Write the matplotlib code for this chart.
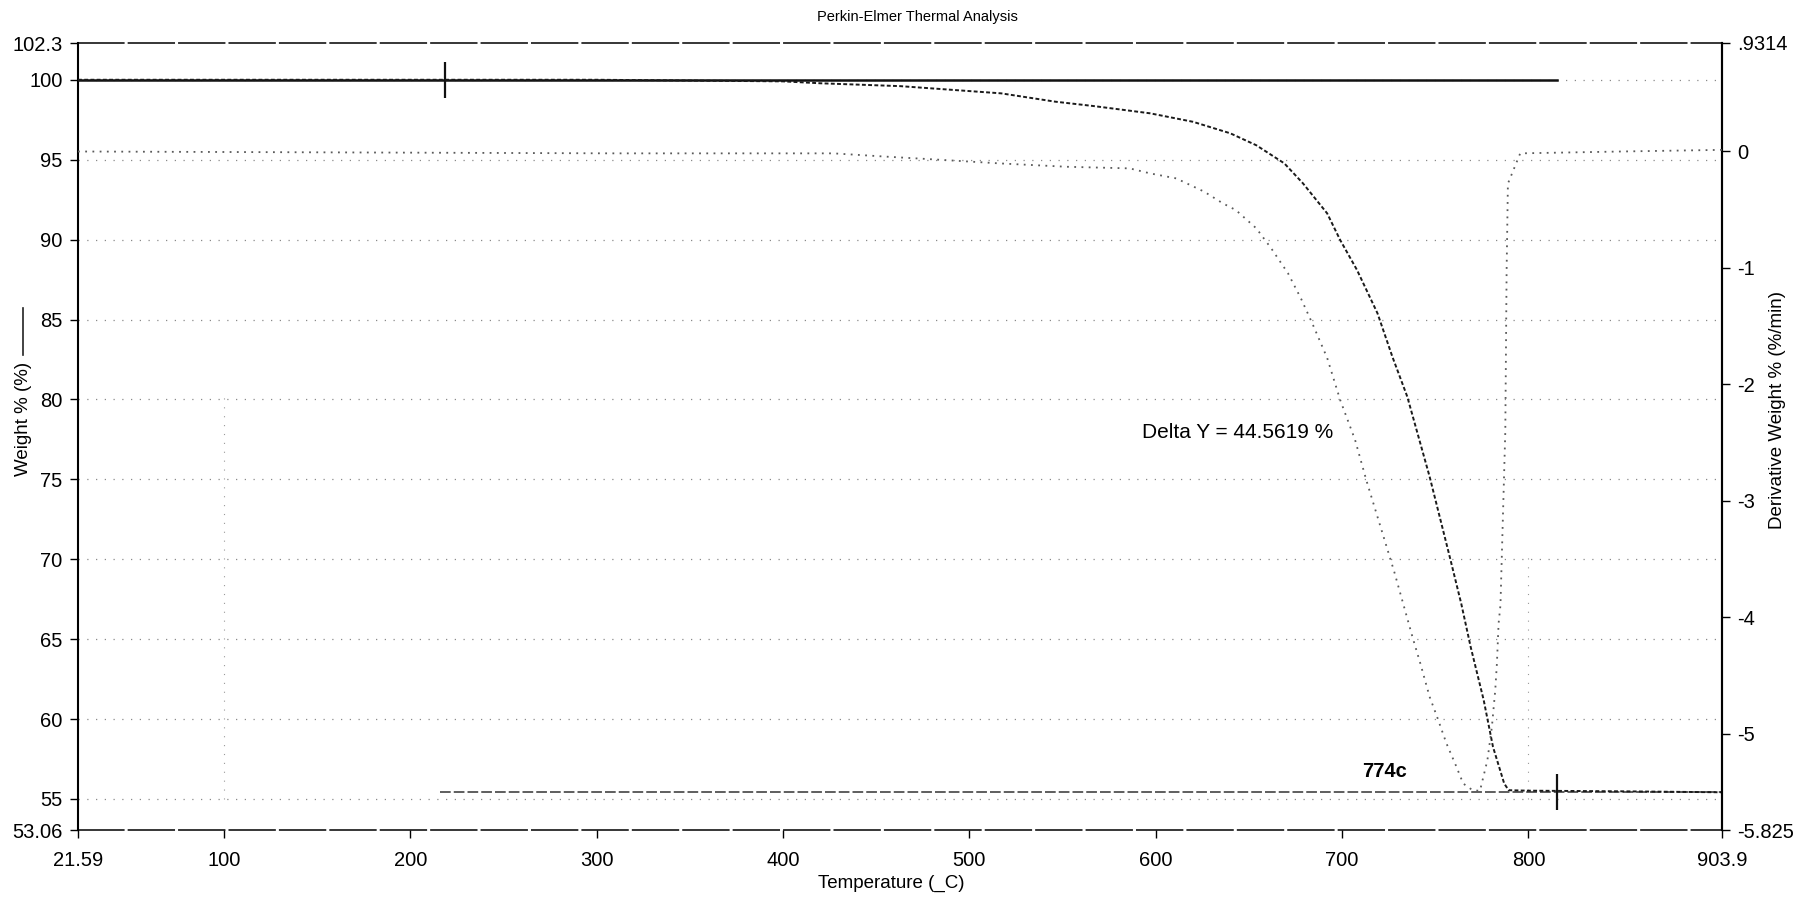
import matplotlib
matplotlib.use("Agg")
import matplotlib.pyplot as plt
from matplotlib.lines import Line2D

plt.rcParams['font.family'] = ['Liberation Sans', 'DejaVu Sans']

# ---- data ----
# weight % curve (left axis)
temp_w = [21.59, 300, 400, 420, 463, 517, 546, 567, 597, 620, 640, 654, 669, 679,
          692, 699, 708, 719, 727, 735, 747, 758, 764, 769, 776, 781, 787,
          789.4, 800, 850, 903.9]
weight = [100.0, 100.0, 99.9, 99.78, 99.6, 99.15, 98.63, 98.35, 97.9, 97.37, 96.65,
          95.9, 94.77, 93.52, 91.64, 89.97, 88.1, 85.39, 82.67, 80.17, 75.16,
          70.05, 67.2, 64.52, 61.19, 58.26, 55.97, 55.55, 55.52, 55.48, 55.42]

# derivative weight % (%/min) curve (right axis)
temp_d = [21.59, 309, 427, 454, 481, 516, 552, 586, 597, 611, 626, 636, 643, 654,
          662, 671, 678, 684, 692, 699, 707, 713, 719, 728, 738, 742, 747, 751,
          756, 761, 765, 770, 774, 778, 780.4, 782.2, 783.1, 784, 785, 787.6,
          788.3, 789, 795.6, 850, 903.9]
deriv = [0.0, -0.016, -0.016, -0.043, -0.068, -0.102, -0.131, -0.145, -0.188,
         -0.231, -0.345, -0.445, -0.503, -0.660, -0.832, -1.046, -1.264, -1.475,
         -1.772, -2.134, -2.477, -2.821, -3.136, -3.608, -4.180, -4.395, -4.682,
         -4.854, -5.081, -5.268, -5.426, -5.483, -5.489, -5.225, -4.940, -4.626,
         -4.395, -4.052, -3.894, -2.403, -1.031, -0.276, -0.016, 0.0, 0.014]

# delta Y step lines and cursor marks
upper_ref_x = [21.59, 815.3]
upper_ref_y = [100.0, 100.0]
lower_ref_x = [215.9, 903.9]
lower_ref_y = [55.45, 55.45]
cursor_x = [218.6, 815.3]
cursor_y = [100.0, 55.45]

x_ticks = [21.59, 100, 200, 300, 400, 500, 600, 700, 800, 903.9]
x_labels = ['21.59', '100', '200', '300', '400', '500', '600', '700', '800', '903.9']
yl_ticks = [53.06, 55, 60, 65, 70, 75, 80, 85, 90, 95, 100, 102.3]
yl_labels = ['53.06', '55', '60', '65', '70', '75', '80', '85', '90', '95', '100', '102.3']
yr_ticks = [-5.825, -5, -4, -3, -2, -1, 0, 0.9314]
yr_labels = ['-5.825', '-5', '-4', '-3', '-2', '-1', '0', '.9314']
grid_y = [55, 60, 65, 70, 75, 80, 85, 90, 95, 100]

W, H = 1810, 897
fig = plt.figure(figsize=(W / 100, H / 100), dpi=100)
L, R, T, B = 78, 1722, 43, 830
ax = fig.add_axes([L / W, 1 - B / H, (R - L) / W, (B - T) / H])
ax.set_xlim(21.59, 903.9)
ax.set_ylim(53.06, 102.3)

# faint dotted grid
for g in grid_y:
    ax.axhline(g, color='#8a8a8a', lw=0.9, ls=(0, (1, 6)), zorder=0)
ax.axvline(100, ymin=0.04, ymax=0.55, color='#999999', lw=0.8, ls=(0, (1, 7)), zorder=0)
ax.axvline(800, ymin=0.04, ymax=0.35, color='#999999', lw=0.8, ls=(0, (1, 7)), zorder=0)

# step lines + cursors
ax.plot(upper_ref_x, upper_ref_y, color='#111111', lw=1.8, zorder=3)
ax.plot(lower_ref_x, lower_ref_y, color='#333333', lw=1.1, ls=(0, (7, 2)), zorder=3)
ax.plot(cursor_x, cursor_y, ls='none', marker='|', ms=26, mew=1.6, color='#111111', zorder=4)

# weight curve
ax.plot(temp_w, weight, color='#1a1a1a', lw=1.4, ls=(0, (2, 1.2)), zorder=4)

ax.set_xticks(x_ticks)
ax.set_xticklabels(x_labels)
ax.set_yticks(yl_ticks)
ax.set_yticklabels(yl_labels)
ax.tick_params(direction='out', length=6, width=1, labelsize=14.5, pad=5)
ax.tick_params(axis='x', pad=9)

for s in ['left', 'right']:
    ax.spines[s].set_linewidth(1.5)
for s in ['top', 'bottom']:
    ax.spines[s].set_linewidth(1.1)
    ax.spines[s].set_linestyle((0, (30, 3)))

ax2 = ax.twinx()
ax2.set_ylim(-5.825, 0.9314)
ax2.plot(temp_d, deriv, color='#5a5a5a', lw=1.3, ls=(0, (1, 3)), zorder=3)
ax2.set_yticks(yr_ticks)
ax2.set_yticklabels(yr_labels)
ax2.tick_params(direction='out', length=6, width=1, labelsize=14.5, pad=5)
for s in ['left', 'top', 'bottom']:
    ax2.spines[s].set_visible(False)
ax2.spines['right'].set_linewidth(1.5)

# annotations
ax.text(695, 77.9, 'Delta Y = 44.5619 %', ha='right', va='center', fontsize=15)
ax.text(710.6, 56.7, '774c', ha='left', va='center', fontsize=14.5, fontweight='bold')

# titles and axis labels
fig.text(0.507, 1 - 17 / H, 'Perkin-Elmer Thermal Analysis', ha='center', va='center', fontsize=10.5)
fig.text(891 / W, 1 - 883 / H, 'Temperature (_C)', ha='center', va='center', fontsize=13.5)
fig.text(23 / W, 1 - 419 / H, 'Weight % (%)', rotation=90, ha='center', va='center', fontsize=13.5)
fig.add_artist(Line2D([23 / W, 23 / W], [1 - 308 / H, 1 - 355 / H], color='#222222', lw=1.2))
fig.text(1777 / W, 1 - 410 / H, 'Derivative Weight % (%/min)', rotation=90,
         ha='center', va='center', fontsize=13.5)

fig.savefig('out.png', dpi=100)
